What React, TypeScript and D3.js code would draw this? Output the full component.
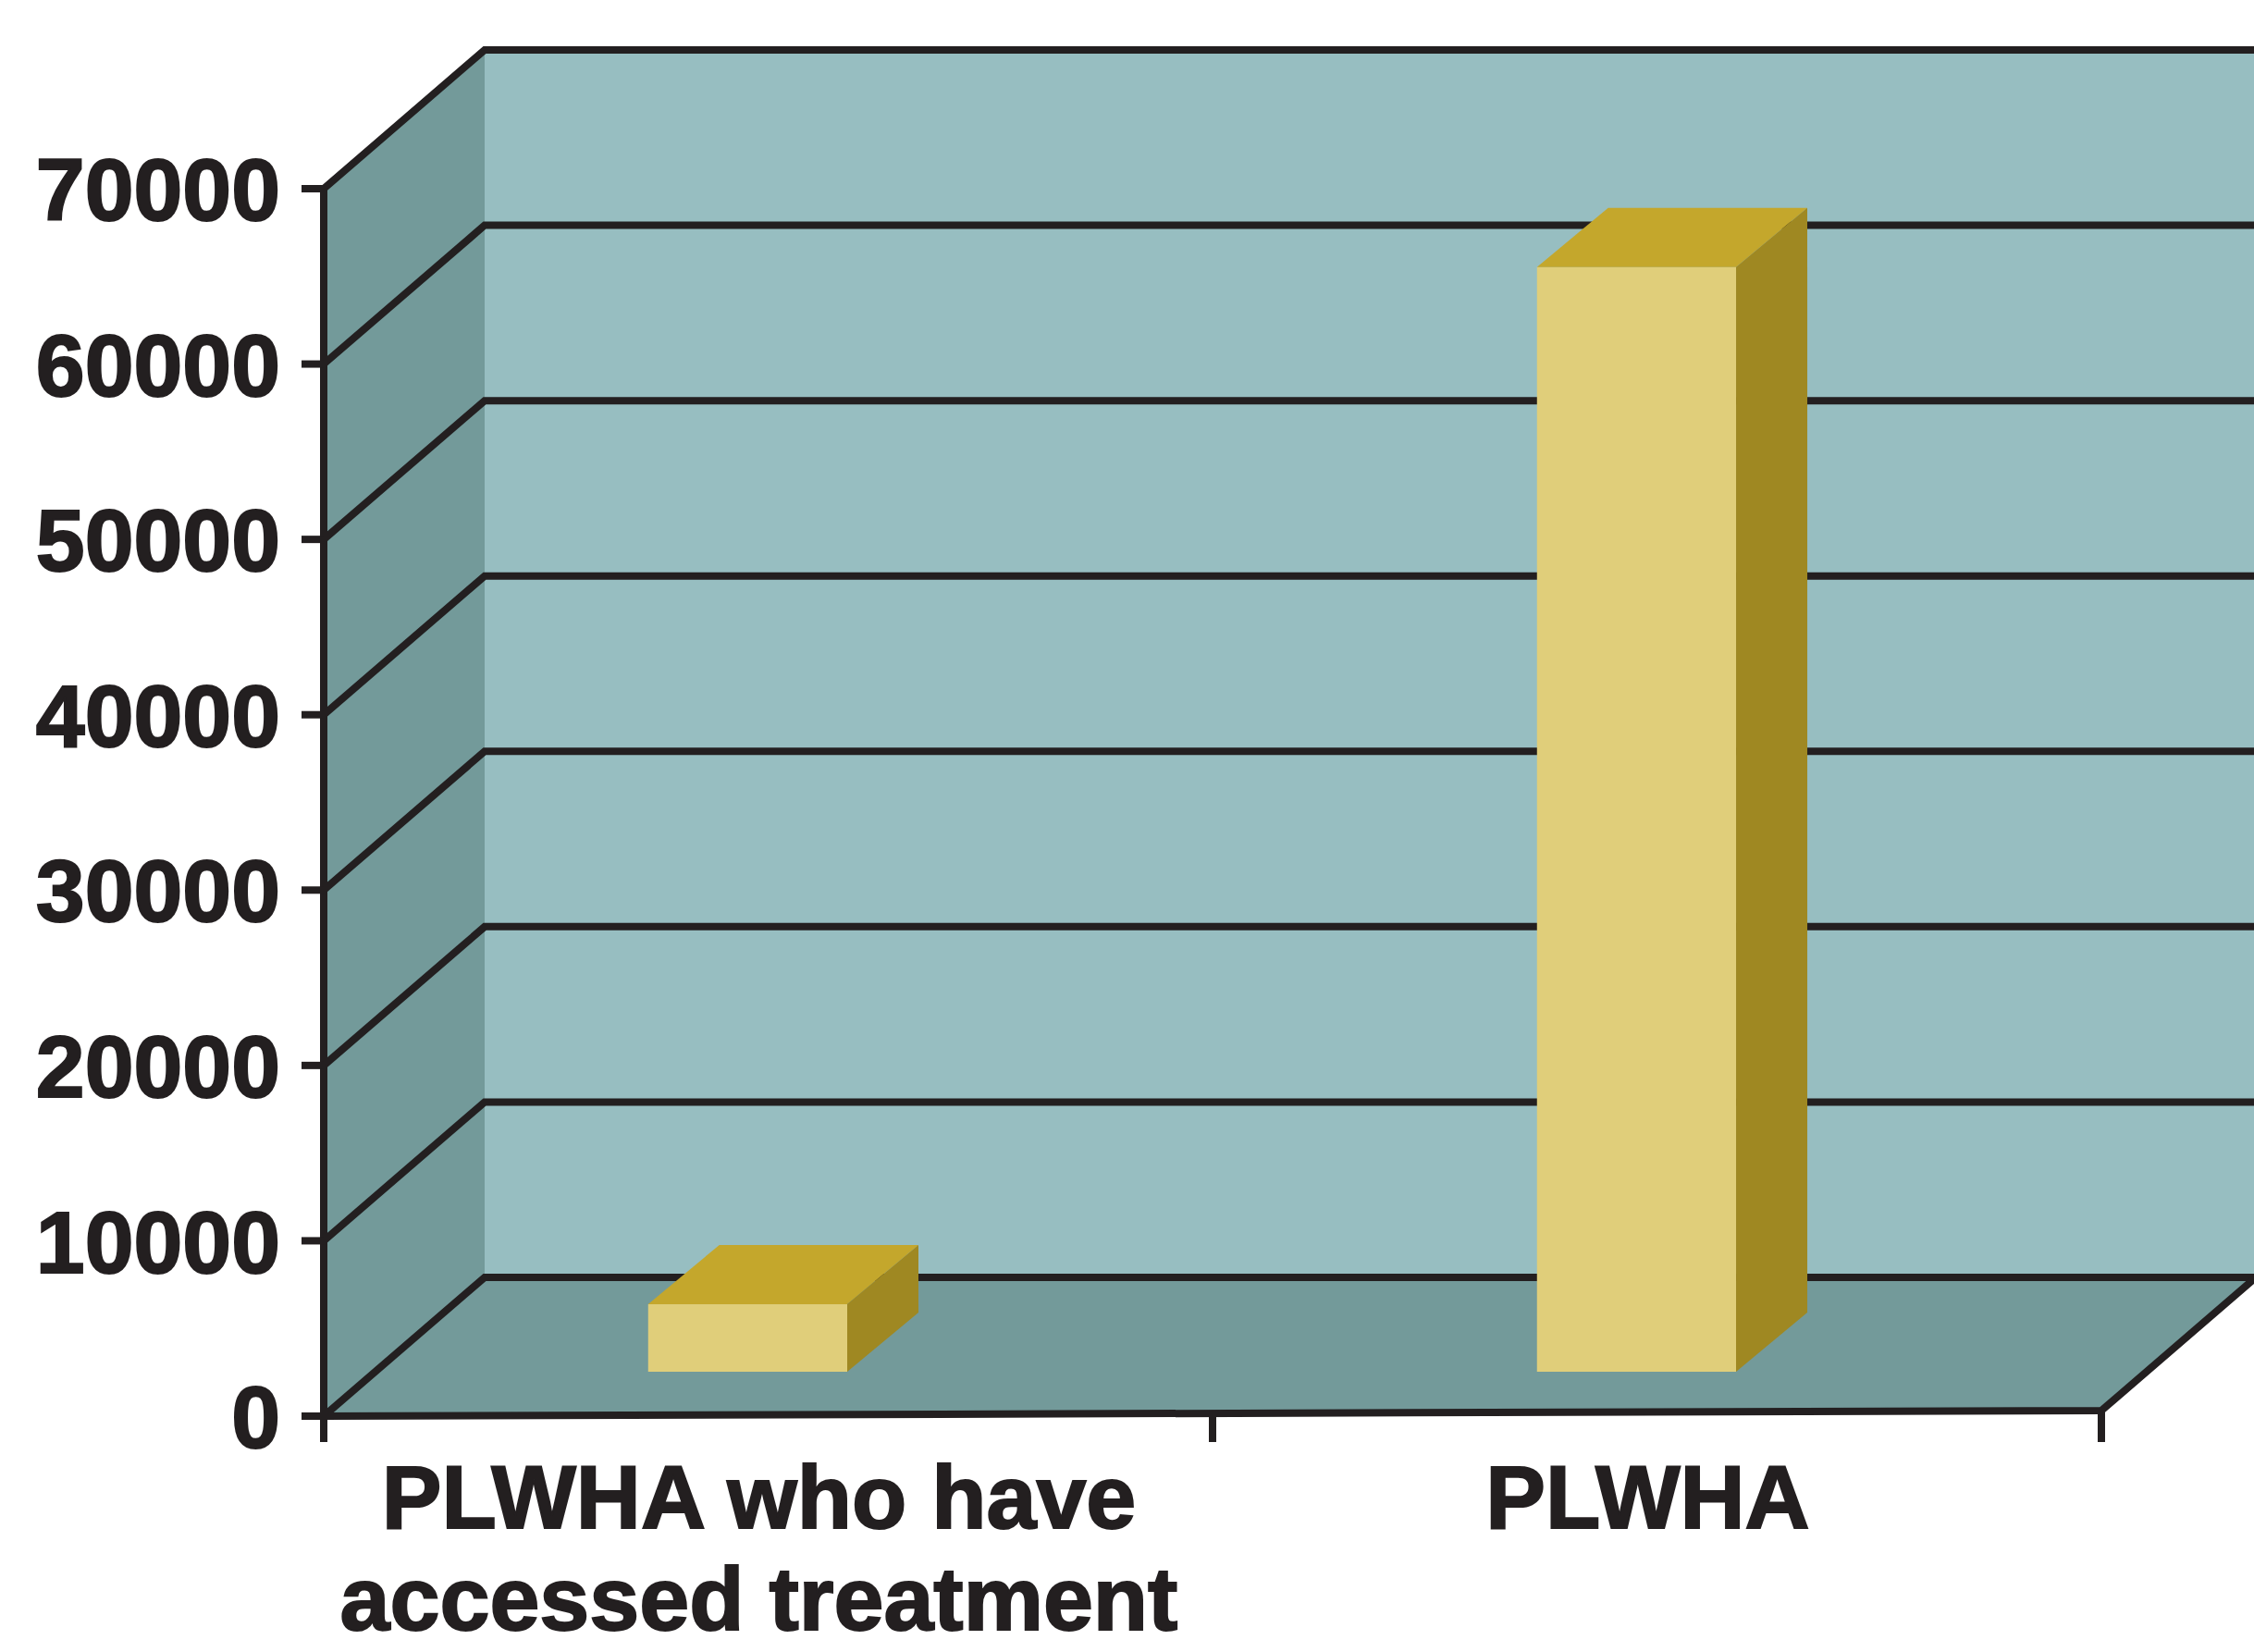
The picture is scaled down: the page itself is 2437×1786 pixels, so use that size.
import React from "react";
import * as d3 from "d3";

// data
const categories = ["PLWHA who have accessed treatment", "PLWHA"];
const categoryLines = [["PLWHA who have", "accessed treatment"], ["PLWHA"]];
const values = [3850, 63000];
const yTicks = [0, 10000, 20000, 30000, 40000, 50000, 60000, 70000];

const W = 2437;
const H = 1786;
const ink = "#231f20";
const font = "'Liberation Sans', Arial, Helvetica, sans-serif";

export default function App() {
  const x = d3.scaleBand().domain(categories).range([350, 2272]);
  const y = d3.scaleLinear().domain([0, 70000]).range([1531, 204]);

  // depth of the box (back wall offset) and of the bars
  const dx = 174;
  const dy = 150;
  const bdx = 77;
  const bdy = 64;
  const lift = 48; // bars stand part way back on the floor

  const x0 = x.range()[0];
  const x1 = x.range()[1];
  const y0 = y(0);
  const yTop = y(70000);
  const tilt = -6; // the floor's front edge drops slightly to the left

  const step = x.step();

  return (
    <svg
      width={W}
      height={H}
      style={{ position: "absolute", left: 0, top: 0, background: "#fff" }}
    >
      {/* back wall */}
      <rect x={x0 + dx} y={yTop - dy} width={W - x0 - dx + 20} height={y0 - yTop} fill="#97bec1" />
      {/* left wall */}
      <polygon
        points={`${x0},${yTop} ${x0 + dx},${yTop - dy} ${x0 + dx},${y0 - dy} ${x0},${y0}`}
        fill="#739a9a"
      />
      {/* floor */}
      <polygon
        points={`${x0},${y0} ${x0 + dx},${y0 - dy} ${x1 + dx},${y0 - dy + tilt / 2} ${x1},${y0 + tilt}`}
        fill="#739a9a"
      />

      {/* gridlines: diagonal on the side wall, level on the back wall */}
      <g fill="none" stroke={ink} strokeWidth={8} strokeLinejoin="miter">
        {yTicks.map((t) => (
          <path key={t} d={`M${x0},${y(t)} L${x0 + dx},${y(t) - dy} L${W + 20},${y(t) - dy}`} />
        ))}
        {/* floor front and right edges */}
        <path d={`M${x0},${y0} L${x1},${y0 + tilt} L${x1 + dx},${y0 + tilt - dy}`} />
      </g>

      {/* bars */}
      {categories.map((c, i) => {
        const fx = (x(c) as number) + step * 0.365;
        const fw = step * 0.224;
        const yb = y0 - lift;
        const yt = y(values[i]) - lift;
        return (
          <g key={c}>
            <rect x={fx} y={yt} width={fw} height={yb - yt} fill="#e0ce7a" />
            <polygon
              points={`${fx},${yt} ${fx + bdx},${yt - bdy} ${fx + fw + bdx},${yt - bdy} ${fx + fw},${yt}`}
              fill="#c4a72c"
            />
            <polygon
              points={`${fx + fw},${yt} ${fx + fw + bdx},${yt - bdy} ${fx + fw + bdx},${yb - bdy} ${fx + fw},${yb}`}
              fill="#9f8822"
            />
          </g>
        );
      })}

      {/* axes */}
      <g stroke={ink} strokeWidth={8} fill="none">
        <path d={`M${x0},${yTop - 3} L${x0},${y0 + 28}`} />
        {yTicks.map((t) => (
          <path key={t} d={`M${x0 - 24},${y(t)} L${x0},${y(t)}`} />
        ))}
        {[x0, x0 + step, x1].map((xx, i) => (
          <path key={i} d={`M${xx},${y0 + (tilt * (xx - x0)) / (x1 - x0)} L${xx},${y0 + 28}`} />
        ))}
      </g>

      {/* y tick labels */}
      <g fontFamily={font} fontWeight="bold" fontSize={95} fill={ink} stroke={ink} strokeWidth={2} textAnchor="end">
        {yTicks.map((t) => (
          <text key={t} x={303} y={y(t)} dy="0.36em">
            {t}
          </text>
        ))}
      </g>

      {/* category labels */}
      <g fontFamily={font} fontWeight="bold" fontSize={97} fill={ink} stroke={ink} strokeWidth={2} textAnchor="middle">
        {categories.map((c, i) => (
          <text key={c} x={(x(c) as number) + step / 2 - 10} y={1652}>
            {categoryLines[i].map((line, j) => (
              <tspan key={j} x={(x(c) as number) + step / 2 - 10} y={1652 + j * 110}>
                {line}
              </tspan>
            ))}
          </text>
        ))}
      </g>
    </svg>
  );
}
